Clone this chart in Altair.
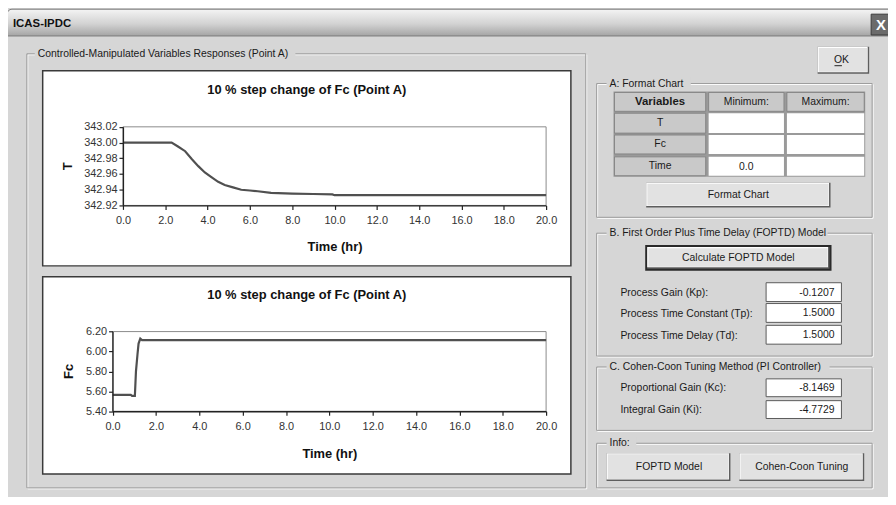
import altair as alt
import pandas as pd

# ---------------- values ----------------
time_T = [0.0, 2.3, 2.6, 2.94, 3.25, 3.56, 3.87, 4.18, 4.5, 4.81, 5.2, 5.59,
          6.0, 6.37, 7.0, 8.0, 9.0, 9.9, 10.0, 12.0, 14.0, 16.0, 18.0, 20.0]
T_vals = [343.000, 343.000, 342.995, 342.989, 342.979, 342.970, 342.962, 342.956,
          342.950, 342.946, 342.943, 342.940, 342.939, 342.938, 342.936, 342.935,
          342.9345, 342.934, 342.933, 342.933, 342.933, 342.933, 342.933, 342.933]
time_Fc = [0.0, 0.84, 0.9, 1.03, 1.08, 1.15, 1.2, 1.28, 1.36, 20.0]
Fc_vals = [5.565, 5.565, 5.555, 5.555, 5.80, 5.97, 6.08, 6.13, 6.115, 6.115]

x_ticks = [0, 2, 4, 6, 8, 10, 12, 14, 16, 18, 20]
T_ticks = [342.92, 342.94, 342.96, 342.98, 343.00, 343.02]
Fc_ticks = [5.40, 5.60, 5.80, 6.00, 6.20]

chart_title = "10 % step change of Fc (Point A)"
x_title = "Time (hr)"
window_title = "ICAS-IPDC"
group_title = "Controlled-Manipulated Variables Responses (Point A)"
table_header = ["Variables", "Minimum:", "Maximum:"]
table_vars = ["T", "Fc", "Time"]
table_min = ["", "", "0.0"]
group_a = "A: Format Chart"
group_b = "B. First Order Plus Time Delay (FOPTD) Model"
group_c = "C. Cohen-Coon Tuning Method (PI Controller)"
group_d = "Info:"
fopdt_labels = ["Process Gain (Kp):", "Process Time Constant (Tp):", "Process Time Delay (Td):"]
fopdt_values = ["-0.1207", "1.5000", "1.5000"]
cc_labels = ["Proportional Gain (Kc):", "Integral Gain (Ki):"]
cc_values = ["-8.1469", "-4.7729"]
buttons = ["OK", "Format Chart", "Calculate FOPTD Model", "FOPTD Model", "Cohen-Coon Tuning"]

# ---------------- layout (page pixels) ----------------
W, H = 888, 489
OX, OY = 8, 8
FONT = "Liberation Sans"
BODY = "#d6d6d6"


def X(v):
    return v - OX


def Y(v):
    return v - OY


back, front, texts = [], [], []


def rect(lst, x1, y1, x2, y2, fill, stroke="transparent", sw=0):
    lst.append(dict(x=X(x1), y=Y(y1), x2=X(x2), y2=Y(y2), fill=fill, stroke=stroke, sw=sw))


def etched(x1, y1, x2, y2):
    rect(front, x1 + 1, y1 + 1, x2 + 1, y2 + 1, "transparent", "#ffffff", 1)
    rect(front, x1, y1, x2, y2, "transparent", "#9b9b9b", 1)


def raised(x1, y1, x2, y2):
    rect(front, x1, y1, x2, y2, "#5e5e5e")
    rect(front, x1, y1, x2 - 1.5, y2 - 1.5, "#ffffff")
    rect(front, x1 + 1.2, y1 + 1.2, x2 - 2, y2 - 2, "#e2e2e2")


def txt(x, y, s, kind):
    texts.append(dict(x=X(x), y=Y(y), label=s, kind=kind))


# window body
rect(back, 0, 0, 900, 510, BODY)

# close button
rect(front, 879, 12, 900, 33, "#6b6b6b", "#3c3c3c", 1)
txt(889, 23, "X", "X")
txt(13, 22, window_title, "wt")

# left group with the two charts
etched(27, 52, 591, 490)
rect(front, 35, 45, 298, 59, BODY)
txt(38, 52, group_title, "L")
rect(front, 43, 69, 576, 266, "#ffffff", "#3a3a3a", 1.5)
rect(front, 43, 277, 576, 476, "#ffffff", "#3a3a3a", 1.5)
rect(front, 124, 125.7, 551, 205, "#ffffff", "#8a8a8a", 1)
rect(front, 113.5, 332.3, 551, 412.7, "#ffffff", "#8a8a8a", 1)
txt(309.5, 89, chart_title, "ct")
txt(309.5, 295, chart_title, "ct")

# OK button
raised(825, 45, 877, 72)
txt(849, 58.5, buttons[0], "C")
rect(front, 842, 63.5, 849.5, 64.5, "#222222")

# group A
etched(602, 82, 880, 217)
rect(front, 612, 75, 697, 89, BODY)
txt(615, 82, group_a, "L")
rect(front, 619, 90, 873, 176, "#9a9a9a")
cols = [(620, 712), (715, 791), (794, 872)]
rows = [(91, 110), (112, 132), (134, 153), (156, 175)]
for ci, (cx1, cx2) in enumerate(cols):
    for ri, (ry1, ry2) in enumerate(rows):
        gray = ri == 0 or ci == 0
        rect(front, cx1, ry1, cx2, ry2, "#c9c9c9" if gray else "#ffffff",
             "#7c7c7c" if gray else "transparent", 0.8 if gray else 0)
for ci, (cx1, cx2) in enumerate(cols):
    txt((cx1 + cx2) / 2, (rows[0][0] + rows[0][1]) / 2 + 0.5, table_header[ci], "CB" if ci == 0 else "C")
for ri in range(3):
    ry1, ry2 = rows[ri + 1]
    txt((cols[0][0] + cols[0][1]) / 2, (ry1 + ry2) / 2, table_vars[ri], "C")
    if table_min[ri]:
        txt((cols[1][0] + cols[1][1]) / 2, (ry1 + ry2) / 2 + 1, table_min[ri], "C")
raised(652, 182, 838, 207)
txt(745, 194.5, buttons[1], "C")

# group B
etched(602, 233, 880, 357)
rect(front, 612, 226, 835, 240, BODY)
txt(615, 233, group_b, "L")
rect(front, 651, 245, 839, 271, "#2a2a2a")
raised(653, 247, 837, 269)
txt(745, 258, buttons[2], "C")
for i, (lab, val) in enumerate(zip(fopdt_labels, fopdt_values)):
    y1 = [283, 304, 326][i]
    rect(front, 773, y1, 849, y1 + 19, "#ffffff", "#5a5a5a", 1)
    txt(626, y1 + 10.5, lab, "L")
    txt(842, y1 + 10, val, "R")

# group C
etched(602, 368, 880, 432)
rect(front, 612, 361, 837, 375, BODY)
txt(615, 368, group_c, "L")
for i, (lab, val) in enumerate(zip(cc_labels, cc_values)):
    y1 = [380, 402][i]
    rect(front, 773, y1, 849, y1 + 18, "#ffffff", "#5a5a5a", 1)
    txt(626, y1 + 9.5, lab, "L")
    txt(842, y1 + 9, val, "R")

# group Info
etched(602, 445, 880, 490)
rect(front, 612, 438, 642, 452, BODY)
txt(615, 445, group_d, "L")
raised(612, 455, 737, 483)
raised(746, 455, 872, 483)
txt(675, 469, buttons[3], "C")
txt(809, 469, buttons[4], "C")

back_df = pd.DataFrame(back)
front_df = pd.DataFrame(front)
text_df = pd.DataFrame(texts)
dummy = pd.DataFrame({"a": [0]})


def rect_layer(df):
    return alt.Chart(df).mark_rect().encode(
        x=alt.X("x:Q", scale=None, axis=None), x2="x2:Q",
        y=alt.Y("y:Q", scale=None, axis=None), y2="y2:Q",
        fill=alt.Fill("fill:N", scale=None, legend=None),
        stroke=alt.Stroke("stroke:N", scale=None, legend=None),
        strokeWidth=alt.StrokeWidth("sw:Q", scale=None, legend=None),
    )


def text_layer(kind, **kw):
    return alt.Chart(text_df).transform_filter(alt.datum.kind == kind).mark_text(
        font=FONT, baseline="middle", **kw
    ).encode(
        x=alt.X("x:Q", scale=None, axis=None),
        y=alt.Y("y:Q", scale=None, axis=None),
        text="label:N",
    )


title_bar = alt.Chart(dummy).mark_rect(
    cornerRadiusTopLeft=5,
    color=alt.LinearGradient(
        gradient="linear", x1=0, x2=0, y1=0, y2=1,
        stops=[alt.GradientStop(offset=0, color="#f4f4f4"),
               alt.GradientStop(offset=0.55, color="#d2d2d2"),
               alt.GradientStop(offset=1, color="#a4a4a4")]),
    stroke="#7a7a7a", strokeWidth=1,
).encode(x=alt.value(X(7)), x2=alt.value(X(900)), y=alt.value(Y(7)), y2=alt.value(Y(34)))

ax = dict(zindex=1, grid=False, domainColor="#222222", domainWidth=1.3,
          tickColor="#222222", tickSize=4, tickWidth=1.2,
          labelFont=FONT, labelFontSize=11, labelColor="#333333",
          labelFlush=False, labelOverlap=False, labelBound=False,
          titleFont=FONT, titleFontSize=13, titleFontWeight="bold", titleColor="#111111",
          titleAlign="center", titleBaseline="middle")


def line_layer(tvals, yvals, xr, yr, ydom, yticks, ytitle, xaxis_y, yaxis_x, xt, yt):
    df = pd.DataFrame({"t": tvals, "v": yvals})
    return alt.Chart(df).mark_line(color="#505050", strokeWidth=2.2).encode(
        x=alt.X("t:Q", scale=alt.Scale(domain=[0, 20], range=xr, nice=False, zero=False),
                axis=alt.Axis(orient="bottom", offset=Y(xaxis_y) - H, values=x_ticks, format=".1f",
                              title=x_title, titleX=X(xt[0]), titleY=xt[1] - xaxis_y,
                              labelPadding=5, **ax)),
        y=alt.Y("v:Q", scale=alt.Scale(domain=ydom, range=yr, nice=False, zero=False),
                axis=alt.Axis(orient="left", offset=-X(yaxis_x), values=yticks, format=".2f",
                              title=ytitle, titleX=yt[0] - yaxis_x, titleY=Y(yt[1]), titleAngle=270,
                              labelPadding=2, **ax)),
    )


line_T = line_layer(time_T, T_vals, [X(124), X(551)], [Y(205), Y(125.7)], [342.92, 343.02],
                    T_ticks, "T", 205, 124, (337.5, 246), (68, 165))
line_Fc = line_layer(time_Fc, Fc_vals, [X(113.5), X(551)], [Y(412.7), Y(332.3)], [5.40, 6.20],
                     Fc_ticks, "Fc", 412.7, 113.5, (332.25, 455), (69, 372))

chart = alt.layer(
    rect_layer(back_df),
    title_bar,
    rect_layer(front_df),
    text_layer("L", align="left", fontSize=10.5, color="#1a1a1a"),
    text_layer("C", align="center", fontSize=10.5, color="#1a1a1a"),
    text_layer("R", align="right", fontSize=10.5, color="#1a1a1a"),
    text_layer("CB", align="center", fontSize=11.5, fontWeight="bold", color="#1a1a1a"),
    text_layer("wt", align="left", fontSize=11.5, fontWeight="bold", color="#111111"),
    text_layer("ct", align="center", fontSize=13, fontWeight="bold", color="#111111"),
    text_layer("X", align="center", fontSize=15, fontWeight="bold", color="#ffffff"),
    line_T,
    line_Fc,
).resolve_scale(x="independent", y="independent").properties(
    width=W, height=H, padding=0, autosize=alt.AutoSizeParams(type="none"), background="#ffffff"
).configure_view(stroke=None)

chart.save("out.html", embed_options={"renderer": "svg", "actions": False})
